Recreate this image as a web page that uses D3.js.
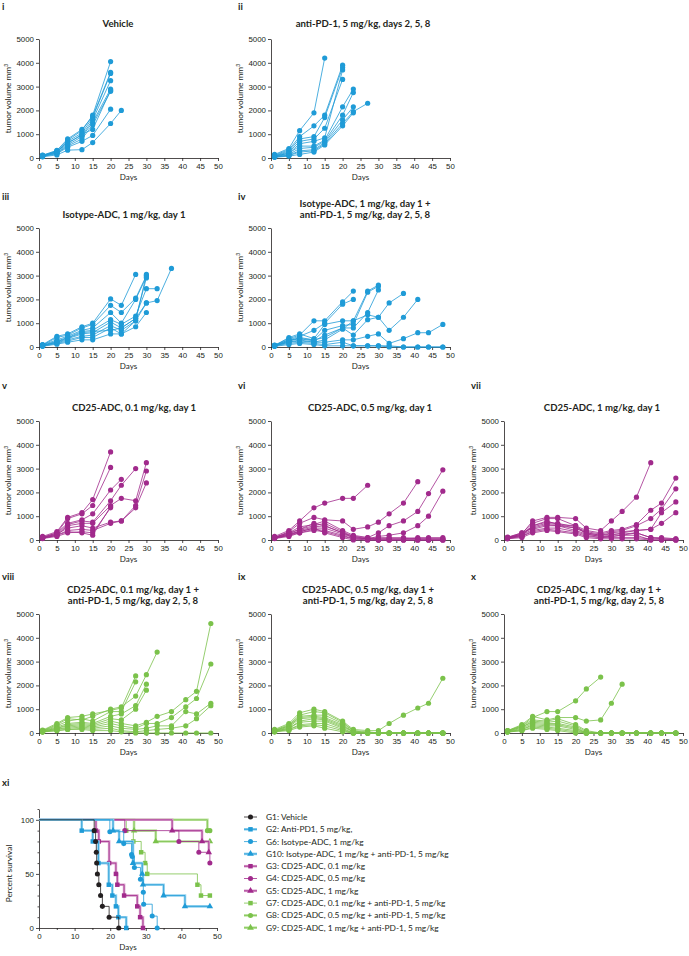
<!DOCTYPE html>
<html>
<head>
<meta charset="utf-8">
<script src="https://cdn.jsdelivr.net/npm/d3@7"></script>
<style>
  body { margin: 0; background: #fff; }
  svg { font-family: Lato, "Open Sans", sans-serif; }
  .axis path, .axis line { stroke: #231f20; stroke-width: 0.8; }
  .axis text { font-size: 7.9px; fill: #231f20; }
</style>
</head>
<body>
<svg id="fig"></svg>
<script>
// measurement days (x values of every tumour-volume curve)
var days = [1, 5, 8, 12, 15, 20, 23, 27, 30, 33, 37, 41, 44, 48];

// tumour volumes per mouse, one value per measurement day until the mouse leaves the study
var vehicle = [
  [100, 300, 750, 1150, 1800, 4050],
  [120, 320, 800, 1200, 1750, 3600],
  [80, 250, 700, 1050, 1700, 3550],
  [100, 280, 650, 950, 1600, 3250],
  [90, 220, 550, 900, 1500, 2900],
  [70, 200, 500, 800, 1400, 2800],
  [60, 180, 450, 700, 950, 2050],
  [50, 130, 330, 350, 650, 1450, 2000],
  [110, 260, 600, 1000, 1200, 2850]
];
var antiPD1 = [
  [150, 400, 1150, 1900, 4200],
  [120, 350, 900, 1350, 1800, 3900],
  [100, 300, 800, 900, 1700, 3800],
  [90, 250, 700, 800, 1250, 3300],
  [80, 200, 600, 700, 850, 3700],
  [70, 200, 500, 500, 750, 2150, 2900],
  [60, 150, 400, 450, 700, 1800, 2750],
  [50, 120, 300, 350, 650, 1600, 2150],
  [40, 100, 250, 300, 600, 1450, 1950, 2300],
  [30, 80, 150, 250, 550, 1350, 1900]
];
var isotypeADC = [
  [100, 450, 550, 850, 1000, 2020, 1750, 3050],
  [80, 400, 500, 800, 950, 1750, 1450, 2050, 3000],
  [90, 300, 450, 700, 800, 1450, 1000, 2000, 2950],
  [70, 250, 400, 650, 700, 1150, 950, 1300, 2450, 2450],
  [60, 200, 350, 550, 600, 1050, 800, 1200, 1850, 1950, 3300],
  [50, 180, 300, 450, 500, 900, 700, 1100, 3050],
  [40, 150, 250, 400, 400, 800, 550, 850, 1450],
  [30, 120, 200, 300, 300, 550, 550, 1100, 1850],
  [60, 220, 380, 600, 650, 700, 800, 1200, 2900]
];
var isotypePD1 = [
  [80, 350, 500, 1100, 1100, 1900, 2350],
  [70, 300, 450, 700, 1000, 1800, 2000],
  [60, 400, 550, 350, 950, 1100, 1100, 2350, 2600],
  [50, 250, 400, 300, 700, 900, 950, 2300, 2550],
  [60, 300, 350, 250, 500, 800, 800, 1450, 2400],
  [50, 200, 300, 200, 300, 750, 1100, 1350, 1250, 1850, 2250],
  [40, 250, 350, 300, 400, 800, 500, 1150, 1250, 700, 1250, 2000],
  [50, 200, 250, 200, 200, 300, 300, 450, 550, 150, 350, 600, 600, 950],
  [40, 150, 200, 150, 100, 200, 50, 50, 50, 50, 0, 0, 0, 0],
  [30, 100, 150, 100, 50, 50, 50, 50, 50, 0, 0, 0, 0, 0]
];
var cd25_01 = [
  [150, 350, 950, 1150, 1700, 3700],
  [120, 300, 900, 1100, 1450, 3050],
  [100, 300, 700, 850, 1100, 2100, 2550],
  [100, 250, 650, 800, 750, 1650, 2300, 3000],
  [80, 200, 600, 700, 700, 1450, 1750, 1650, 3250],
  [90, 250, 500, 600, 500, 750, 800, 1450, 2900],
  [70, 200, 400, 450, 400, 700, 800, 1350, 2400],
  [60, 150, 300, 350, 300, 1350],
  [80, 200, 350, 300, 200, 1400]
];
var cd25_05 = [
  [150, 400, 800, 1350, 1550, 1750, 1750, 2300],
  [100, 350, 700, 950, 850, 800, 450, 550, 750, 1100, 1550, 2450],
  [120, 300, 550, 650, 800, 400, 200, 100, 300, 600, 800, 1200, 1950, 2950],
  [100, 250, 450, 600, 700, 350, 150, 50, 150, 200, 300, 600, 1000, 2050],
  [80, 200, 400, 550, 600, 300, 100, 50, 50, 50, 50, 100, 100, 100],
  [90, 250, 350, 500, 500, 250, 100, 50, 0, 0, 0, 0, 0, 0],
  [70, 200, 300, 450, 400, 200, 50, 0, 0, 0, 0, 0, 0, 0],
  [60, 150, 300, 400, 350, 150, 50, 50, 100, 100, 100, 50, 50, 50],
  [100, 300, 450, 700, 600, 300, 150, 100, 50, 50, 50, 50, 50, 50],
  [80, 200, 350, 500, 300, 100, 0, 0, 0, 0, 0, 0, 0, 0]
];
var cd25_1 = [
  [100, 250, 800, 950, 950, 900, 500, 400, 800, 1200, 1800, 3250],
  [120, 300, 700, 900, 900, 600, 400, 300, 400, 450, 650, 1250, 1550, 2600],
  [100, 250, 600, 750, 700, 550, 350, 250, 350, 400, 600, 900, 1300, 2150],
  [90, 200, 550, 700, 650, 500, 300, 200, 300, 350, 400, 450, 1150, 1600],
  [80, 200, 450, 600, 600, 400, 250, 150, 200, 300, 400, 450, 700, 1150],
  [70, 150, 400, 500, 500, 350, 200, 100, 150, 200, 300, 100, 100, 50],
  [60, 150, 350, 450, 400, 300, 150, 100, 100, 100, 100, 50, 50, 0],
  [50, 100, 300, 400, 350, 250, 100, 50, 50, 50, 50, 0, 0, 0],
  [100, 300, 500, 650, 600, 500, 300, 200, 250, 250, 300, 100, 50, 50],
  [80, 200, 600, 800, 650, 600, 250, 150, 150, 200, 200, 0, 0, 0]
];
var cd25_01_PD1 = [
  [100, 350, 600, 550, 700, 1000, 1100, 1550, 2450, 3400],
  [120, 400, 650, 700, 800, 950, 1050, 2400],
  [100, 300, 500, 600, 500, 900, 900, 2150],
  [90, 250, 400, 450, 400, 700, 800, 1150, 2050],
  [80, 200, 350, 400, 350, 600, 550, 1000, 1800],
  [70, 200, 300, 350, 300, 500, 400, 300, 450, 700, 900, 1400, 1750, 4600],
  [60, 150, 250, 300, 250, 400, 300, 200, 400, 400, 650, 1100, 1450, 2900],
  [50, 150, 200, 250, 200, 300, 200, 150, 200, 300, 300, 900, 800, 1250],
  [50, 100, 150, 200, 150, 200, 100, 50, 100, 150, 200, 300, 600, 1150],
  [40, 100, 150, 150, 100, 100, 50, 0, 0, 0, 0, 0, 0, 0]
];
var cd25_05_PD1 = [
  [150, 400, 850, 1000, 900, 500, 150, 100, 100, 400, 750, 1050, 1250, 2300],
  [120, 350, 750, 900, 850, 450, 100, 50, 0, 0, 0, 0, 0, 0],
  [100, 300, 700, 750, 750, 400, 100, 0, 0, 0, 0, 0, 0, 0],
  [100, 300, 650, 700, 650, 350, 50, 0, 0, 0, 0, 0, 0, 0],
  [90, 250, 600, 650, 600, 300, 50, 0, 0, 0, 0, 0, 0, 0],
  [80, 200, 500, 600, 550, 250, 50, 0, 0, 0, 0, 0, 0, 0],
  [70, 200, 450, 500, 500, 200, 0, 0, 0, 0, 0, 0, 0, 0],
  [60, 150, 350, 400, 400, 150, 0, 0, 0, 0, 0, 0, 0, 0],
  [50, 150, 300, 350, 300, 100, 0, 0, 0, 0, 0, 0, 0, 0],
  [50, 100, 250, 300, 200, 50, 0, 0, 0, 0, 0, 0, 0, 0]
];
var cd25_1_PD1 = [
  [100, 300, 650, 900, 900, 1350, 1850, 2350],
  [100, 350, 700, 550, 650, 650, 500, 550, 1250, 2050],
  [90, 300, 550, 500, 600, 350, 100, 0, 0, 0, 0, 0, 0, 0],
  [80, 250, 500, 450, 500, 300, 50, 0, 0, 0, 0, 0, 0, 0],
  [70, 250, 450, 400, 400, 250, 0, 0, 0, 0, 0, 0, 0, 0],
  [60, 200, 400, 350, 350, 200, 0, 0, 0, 0, 0, 0, 0, 0],
  [50, 150, 350, 300, 300, 150, 0, 0, 0, 0, 0, 0, 0, 0],
  [50, 150, 300, 250, 200, 100, 0, 0, 0, 0, 0, 0, 0, 0],
  [40, 100, 250, 200, 150, 50, 0, 0, 0, 0, 0, 0, 0, 0],
  [40, 100, 200, 150, 100, 0, 0, 0, 0, 0, 0, 0, 0, 0]
];

// panel titles
var titles = [
  ["Vehicle"],
  ["anti-PD-1, 5 mg/kg, days 2, 5, 8"],
  ["Isotype-ADC, 1 mg/kg, day 1"],
  ["Isotype-ADC, 1 mg/kg, day 1 +", "anti-PD-1, 5 mg/kg, day 2, 5, 8"],
  ["CD25-ADC, 0.1 mg/kg, day 1"],
  ["CD25-ADC, 0.5 mg/kg, day 1"],
  ["CD25-ADC, 1 mg/kg, day 1"],
  ["CD25-ADC, 0.1 mg/kg, day 1 +", "anti-PD-1, 5 mg/kg, day 2, 5, 8"],
  ["CD25-ADC, 0.5 mg/kg, day 1 +", "anti-PD-1, 5 mg/kg, day 2, 5, 8"],
  ["CD25-ADC, 1 mg/kg, day 1 +", "anti-PD-1, 5 mg/kg, day 2, 5, 8"]
];
var panelLabels = ["i", "ii", "iii", "iv", "v", "vi", "vii", "viii", "ix", "x"];
var volumeTicks = [0, 1000, 2000, 3000, 4000, 5000];
var dayTicks = [0, 5, 10, 15, 20, 25, 30, 35, 40, 45, 50];

// Kaplan-Meier survival: [day, percent] at each step
var survG1 = [[15.5, 90], [15.9, 80], [16.1, 70], [16.2, 60], [16.4, 50], [16.8, 40], [17.3, 30], [17.8, 20], [19.7, 10], [22.4, 0]];
var survG2 = [[12.0, 90], [15.1, 80], [16.7, 60], [19.6, 40], [20.6, 30], [21.6, 20], [22.3, 10], [24.5, 0]];
var survG6 = [[19.9, 89], [23.8, 78], [26.0, 68], [26.2, 66], [26.8, 56], [28.5, 45], [29.3, 33], [29.4, 22], [31.8, 11], [33.2, 0]];
var survG10 = [[20.8, 90], [22.5, 80], [26.4, 60], [29.0, 50], [29.2, 40], [35.0, 30], [41.0, 20], [48.0, 20]];
var survG3 = [[16.0, 90], [16.8, 80], [19.7, 60], [21.6, 50], [22.0, 40], [23.9, 30], [27.6, 20], [28.4, 10], [29.2, 0]];
var survG4 = [[24.1, 90], [39.3, 80], [44.9, 70], [48.0, 60]];
var survG5 = [[37.4, 90], [45.8, 80], [47.7, 70]];
var survG7 = [[24.5, 90], [26.5, 80], [28.7, 70], [29.8, 60], [30.4, 50], [44.5, 40], [45.5, 30], [48.0, 30]];
var survG8 = [[47.3, 90], [48.0, 90]];
var survG9 = [[26.7, 90], [32.8, 80], [48.0, 80]];
var survLabels = [
  "G1: Vehicle",
  "G2: Anti-PD1, 5 mg/kg,",
  "G6: Isotype-ADC, 1 mg/kg",
  "G10: Isotype-ADC, 1 mg/kg + anti-PD-1, 5 mg/kg",
  "G3: CD25-ADC, 0.1 mg/kg",
  "G4: CD25-ADC, 0.5 mg/kg",
  "G5: CD25-ADC, 1 mg/kg",
  "G7: CD25-ADC, 0.1 mg/kg + anti-PD-1, 5 mg/kg",
  "G8: CD25-ADC, 0.5 mg/kg + anti-PD-1, 5 mg/kg",
  "G9: CD25-ADC, 1 mg/kg + anti-PD-1, 5 mg/kg"
];

// colours
var blue = "#1f9bd7", purple = "#a12a8c", green = "#7bc24b";
var blueLt = "#94d2ef", purpleLt = "#d9a0cc", greenLt = "#bde3a0";

var svg = d3.select("#fig").attr("width", 689).attr("height", 956);

// layout of the 10 small multiples
var colX = [39, 271, 504], rowTop = [39, 228, 421, 614];
var pw = 179, ph = 119;
var panelData = [vehicle, antiPD1, isotypeADC, isotypePD1, cd25_01, cd25_05, cd25_1, cd25_01_PD1, cd25_05_PD1, cd25_1_PD1];
var panelColor = [blue, blue, blue, blue, purple, purple, purple, green, green, green];
var panelPos = [[0, 0], [1, 0], [0, 1], [1, 1], [0, 2], [1, 2], [2, 2], [0, 3], [1, 3], [2, 3]];
var titleX = [118, 363, 124, 365, 134, 370, 602, 133, 368, 599];
var labelY = [10, 200, 389, 580];

var x = d3.scaleLinear().domain([0, 50]).range([0, pw]);
var y = d3.scaleLinear().domain([0, 5000]).range([ph, 0]);
var line = d3.line()
  .x(function(d) { return x(d[0]); })
  .y(function(d) { return y(d[1]); });

panelData.forEach(function(mice, i) {
  var c = panelPos[i][0], r = panelPos[i][1];
  var g = svg.append("g").attr("transform", "translate(" + colX[c] + "," + rowTop[r] + ")");
  var col = panelColor[i];

  g.append("g").attr("class", "axis")
    .attr("transform", "translate(0," + ph + ")")
    .call(d3.axisBottom(x).tickValues(dayTicks).tickSize(3).tickSizeOuter(0).tickPadding(2));
  g.append("g").attr("class", "axis")
    .call(d3.axisLeft(y).tickValues(volumeTicks).tickFormat(d3.format("d")).tickSize(3).tickSizeOuter(0).tickPadding(2));

  // axis titles
  g.append("text")
    .attr("x", pw / 2).attr("y", ph + 22)
    .attr("text-anchor", "middle").attr("font-size", 8).attr("fill", "#231f20")
    .text("Days");
  var yl = g.append("text")
    .attr("transform", "translate(-28," + (ph / 2) + ") rotate(-90)")
    .attr("text-anchor", "middle").attr("font-size", 8.3).attr("fill", "#231f20");
  yl.append("tspan").text("tumor volume mm");
  yl.append("tspan").attr("font-size", 5.2).attr("dy", -3).text("3");

  // panel title
  var t = titles[i];
  t.forEach(function(s, k) {
    svg.append("text")
      .attr("x", titleX[i])
      .attr("y", rowTop[r] - (t.length - k) * 11 + 1 - (r === 0 ? 2 : 0))
      .attr("text-anchor", "middle").attr("font-size", 9.6).attr("font-weight", "bold")
      .attr("fill", "#231f20")
      .text(s);
  });
  svg.append("text")
    .attr("x", c === 0 ? 2 : colX[c] - 33)
    .attr("y", labelY[r])
    .attr("font-size", 9.5).attr("font-weight", "bold").attr("fill", "#231f20")
    .text(panelLabels[i]);

  mice.forEach(function(vals) {
    var pts = vals.map(function(v, k) { return [days[k], v]; });
    g.append("path").attr("d", line(pts))
      .attr("fill", "none").attr("stroke", col).attr("stroke-width", 0.8);
    g.selectAll(null).data(pts).enter().append("circle")
      .attr("cx", function(d) { return x(d[0]); })
      .attr("cy", function(d) { return y(d[1]); })
      .attr("r", 2.6).attr("fill", col);
  });
});

// survival panel xi
svg.append("text").attr("x", 2).attr("y", 786)
  .attr("font-size", 9.5).attr("font-weight", "bold").attr("fill", "#231f20").text("xi");

var sg = svg.append("g").attr("transform", "translate(39,809)");
var sw = 178, sh = 119;
var sx = d3.scaleLinear().domain([0, 50]).range([0, sw]);
var sy = d3.scaleLinear().domain([0, 110]).range([sh, 0]);

sg.append("g").attr("class", "axis")
  .attr("transform", "translate(0," + sh + ")")
  .call(d3.axisBottom(sx).tickValues([0, 10, 20, 30, 40, 50]).tickSize(3).tickSizeOuter(0).tickPadding(2));
sg.append("g").attr("class", "axis")
  .attr("transform", "translate(0," + sh + ")")
  .call(d3.axisBottom(sx).tickValues([5, 15, 25, 35, 45]).tickSize(2).tickFormat(""))
  .select(".domain").remove();
sg.append("g").attr("class", "axis")
  .call(d3.axisLeft(sy).tickValues([0, 50, 100]).tickSize(3).tickSizeOuter(0).tickPadding(2));
sg.append("g").attr("class", "axis")
  .call(d3.axisLeft(sy).tickValues([10, 20, 30, 40, 60, 70, 80, 90, 110]).tickSize(1.5).tickFormat(""))
  .select(".domain").remove();
sg.append("text").attr("x", sw / 2).attr("y", sh + 22)
  .attr("text-anchor", "middle").attr("font-size", 8).attr("fill", "#231f20").text("Days");
sg.append("text")
  .attr("transform", "translate(-27," + (sh / 2 + 5) + ") rotate(-90)")
  .attr("text-anchor", "middle").attr("font-size", 8.3).attr("fill", "#231f20").text("Percent survival");

var groups = [
  { pts: survG1, color: "#231f20", halo: null, sym: d3.symbolCircle },
  { pts: survG2, color: blue, halo: blueLt, sym: d3.symbolSquare },
  { pts: survG6, color: blue, halo: null, sym: d3.symbolCircle },
  { pts: survG10, color: blue, halo: blueLt, sym: d3.symbolTriangle },
  { pts: survG3, color: purple, halo: purpleLt, sym: d3.symbolSquare },
  { pts: survG4, color: purple, halo: null, sym: d3.symbolCircle },
  { pts: survG5, color: purple, halo: purpleLt, sym: d3.symbolTriangle },
  { pts: survG7, color: green, halo: null, sym: d3.symbolSquare },
  { pts: survG8, color: green, halo: greenLt, sym: d3.symbolCircle },
  { pts: survG9, color: green, halo: greenLt, sym: d3.symbolTriangle }
];
var stepLine = d3.line().curve(d3.curveStepAfter)
  .x(function(d) { return sx(d[0]); })
  .y(function(d) { return sy(d[1]); });

groups.slice().reverse().forEach(function(grp) {
  var pts = [[0, 100]].concat(grp.pts);
  if (grp.halo) {
    sg.append("path").attr("d", stepLine(pts)).attr("fill", "none")
      .attr("stroke", grp.halo).attr("stroke-width", 2.6);
  }
  sg.append("path").attr("d", stepLine(pts)).attr("fill", "none")
    .attr("stroke", grp.color).attr("stroke-width", 0.8);
  sg.selectAll(null).data(grp.pts).enter().append("path")
    .attr("transform", function(d) { return "translate(" + sx(d[0]) + "," + sy(d[1]) + ")"; })
    .attr("d", d3.symbol().type(grp.sym).size(grp.sym === d3.symbolTriangle ? 18 : 20))
    .attr("fill", grp.color);
});

// legend
var lg = svg.append("g").attr("transform", "translate(244,817)");
groups.forEach(function(grp, i) {
  var row = lg.append("g").attr("transform", "translate(0," + (i * 12.3) + ")");
  if (grp.halo) {
    row.append("line").attr("x1", 0).attr("x2", 13).attr("stroke", grp.halo).attr("stroke-width", 2.6);
  }
  row.append("line").attr("x1", 0).attr("x2", 13).attr("stroke", grp.color).attr("stroke-width", 0.8);
  row.append("path").attr("transform", "translate(6.5,0)")
    .attr("d", d3.symbol().type(grp.sym).size(20)).attr("fill", grp.color);
  row.append("text").attr("x", 22).attr("y", 2.9)
    .attr("font-size", 8.4).attr("fill", "#231f20").text(survLabels[i]);
});
</script>
</body>
</html>
